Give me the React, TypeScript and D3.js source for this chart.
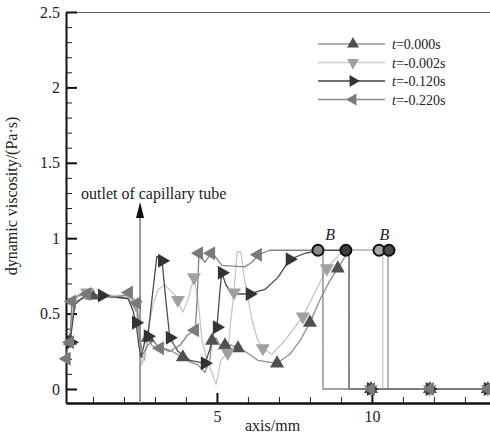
import React, { useEffect, useRef } from "react";
import * as d3 from "d3";

// axis ranges / ticks
const xDomain = [0.13, 13.81];
const yDomain = [-0.093, 2.5];
const yMajor = [0, 0.5, 1, 1.5, 2, 2.5];
const xMajor = [5, 10];
const xMinor = [1, 2, 3, 4, 6, 7, 8, 9, 11, 12, 13];

const legendLabels = ["0.000", "-0.002", "-0.120", "-0.220"];

// t=0.000s
const line000: [number, number][] = [
  [0.13, 0.29], [0.26, 0.32], [0.39, 0.58], [0.97, 0.62], [1.55, 0.61], [2.13, 0.6], [2.42, 0.54],
  [2.52, 0.26], [2.65, 0.19], [2.77, 0.34], [2.9, 0.29], [3.1, 0.26], [3.32, 0.27], [3.55, 0.25],
  [3.9, 0.21], [4.13, 0.18], [4.39, 0.16], [4.61, 0.11], [4.77, 0.19], [4.84, 0.32], [4.97, 0.34],
  [5.1, 0.29], [5.26, 0.29], [5.48, 0.29], [5.68, 0.27], [5.9, 0.25], [6.32, 0.19], [6.94, 0.17],
  [7.35, 0.23], [7.68, 0.32], [8.0, 0.44], [8.32, 0.59], [8.65, 0.72], [8.9, 0.8], [9.23, 0.91],
  [9.35, 0.92], [10.52, 0.92], [10.52, 0], [13.81, 0],
];
const marks000: [number, number][] = [
  [0.26, 0.32], [0.97, 0.62], [2.77, 0.34], [3.9, 0.21], [4.84, 0.32], [5.26, 0.29],
  [5.68, 0.27], [6.94, 0.17], [8.0, 0.44], [8.9, 0.8],
];

// t=-0.002s
const line002: [number, number][] = [
  [0.13, 0.29], [0.26, 0.31], [0.35, 0.59], [0.81, 0.64], [1.23, 0.62], [2.03, 0.62], [2.29, 0.59],
  [2.39, 0.56], [2.48, 0.32], [2.58, 0.16], [2.71, 0.26], [2.84, 0.46], [2.94, 0.56], [3.1, 0.66],
  [3.32, 0.69], [3.65, 0.62], [3.74, 0.59], [3.9, 0.51], [4.06, 0.59], [4.26, 0.74], [4.39, 0.59],
  [4.52, 0.32], [4.68, 0.19], [4.84, 0.11], [4.97, 0.03], [5.13, 0.19], [5.35, 0.24], [5.45, 0.46],
  [5.55, 0.64], [5.65, 0.91], [5.77, 0.91], [5.87, 0.75], [6.13, 0.46], [6.32, 0.32], [6.48, 0.27],
  [6.77, 0.23], [7.19, 0.32], [7.77, 0.48], [8.16, 0.64], [8.55, 0.8], [9.03, 0.91], [9.35, 0.92],
  [10.35, 0.92], [10.35, 0], [13.81, 0],
];
const marks002: [number, number][] = [
  [0.81, 0.64], [2.39, 0.56], [3.74, 0.59], [4.26, 0.74], [5.35, 0.24], [5.55, 0.64],
  [6.48, 0.27], [7.77, 0.48], [8.55, 0.8],
];

// t=-0.120s
const line120: [number, number][] = [
  [0.13, 0.29], [0.26, 0.31], [0.42, 0.56], [0.74, 0.62], [1.29, 0.62], [1.71, 0.61], [2.13, 0.6],
  [2.29, 0.52], [2.39, 0.44], [2.48, 0.29], [2.55, 0.21], [2.68, 0.32], [2.77, 0.35], [2.9, 0.59],
  [3.06, 0.88], [3.23, 0.85], [3.35, 0.59], [3.48, 0.34], [3.74, 0.25], [4.13, 0.19], [4.61, 0.17],
  [4.77, 0.26], [4.9, 0.39], [5.0, 0.41], [5.1, 0.66], [5.16, 0.77], [5.29, 0.69], [5.48, 0.63],
  [6.06, 0.63], [6.55, 0.66], [6.97, 0.74], [7.35, 0.86], [7.84, 0.9], [8.32, 0.92], [9.26, 0.92],
  [9.26, 0], [13.81, 0],
];
const marks120: [number, number][] = [
  [0.29, 0.31], [1.29, 0.62], [2.39, 0.44], [2.77, 0.35], [3.23, 0.85], [3.48, 0.34],
  [4.61, 0.17], [5.0, 0.41], [5.16, 0.77], [6.06, 0.63], [7.35, 0.86],
];

// t=-0.220s
const line220: [number, number][] = [
  [0.13, 0.2], [0.19, 0.29], [0.26, 0.32], [0.32, 0.58], [0.52, 0.62], [0.81, 0.63], [1.23, 0.62],
  [1.71, 0.61], [2.03, 0.62], [2.16, 0.64], [2.32, 0.59], [2.42, 0.56], [2.52, 0.32], [2.61, 0.23],
  [2.77, 0.29], [2.94, 0.32], [3.16, 0.27], [3.48, 0.25], [3.81, 0.29], [4.06, 0.36], [4.3, 0.39],
  [4.36, 0.59], [4.42, 0.9], [4.61, 0.84], [4.81, 0.9], [4.94, 0.88], [5.16, 0.82], [5.9, 0.81],
  [6.13, 0.84], [6.32, 0.89], [6.71, 0.92], [8.42, 0.92], [8.42, 0], [13.81, 0],
];
const marks220: [number, number][] = [
  [0.15, 0.2], [0.26, 0.31], [0.32, 0.58], [0.81, 0.63], [2.16, 0.64], [2.42, 0.57],
  [3.16, 0.27], [4.29, 0.39], [4.42, 0.9], [4.81, 0.9], [6.32, 0.89],
];

// point B: end of the high-viscosity plateau for each curve
const bEnds = [8.26, 9.16, 10.23, 10.55];
const bLevel = 0.92;
const bLabelX = [8.65, 10.4];
const tailMarksX = [9.97, 11.87, 13.74];
const outletX = 2.52;

const seriesStyle = [
  { line: line000, marks: marks000, stroke: "#8e8e8e", fill: "#505050", rot: 0, legendLine: "#9a9a9a" },
  { line: line002, marks: marks002, stroke: "#c6c6c6", fill: "#a0a0a0", rot: 180, legendLine: "#cccccc" },
  { line: line120, marks: marks120, stroke: "#4a4a4a", fill: "#333333", rot: 90, legendLine: "#444444" },
  { line: line220, marks: marks220, stroke: "#838383", fill: "#7a7a7a", rot: -90, legendLine: "#8a8a8a" },
];
const bFills = ["#8a8a8a", "#3c3c3c", "#a8a8a8", "#4a4a4a"];

const W = 490;
const H = 439;
const FONT = "Liberation Serif, DejaVu Serif, Noto Serif, Times New Roman, serif";

export default function App() {
  const svgRef = useRef<SVGSVGElement>(null);

  useEffect(() => {
    const svg = d3.select(svgRef.current);
    svg.selectAll("*").remove();

    const x = d3.scaleLinear().domain(xDomain).range([66, 490]);
    const y = d3.scaleLinear().domain(yDomain).range([403, 12]);

    svg.append("rect").attr("width", W).attr("height", H).attr("fill", "#fff");

    // top border
    svg.append("line")
      .attr("x1", 66).attr("x2", 490).attr("y1", 12.5).attr("y2", 12.5)
      .attr("stroke", "#666").attr("stroke-width", 1);

    // y axis
    const yMinor = d3.range(1, 25).map(d => d / 10).filter(d => Math.abs(d * 2 - Math.round(d * 2)) > 1e-6);
    svg.append("g")
      .attr("transform", "translate(66,0)")
      .call(d3.axisLeft(y).tickValues(yMinor).tickSize(-6).tickSizeOuter(0).tickFormat(() => ""))
      .call(g => g.select(".domain").remove())
      .call(g => g.selectAll("line").attr("stroke", "#222").attr("stroke-width", 1));
    const yAx = svg.append("g")
      .attr("transform", "translate(66,0)")
      .call(d3.axisLeft(y).tickValues(yMajor).tickSize(-11).tickSizeOuter(0).tickPadding(6)
        .tickFormat(d => String(d)));
    yAx.select(".domain").attr("stroke", "#111").attr("stroke-width", 2);
    yAx.selectAll("line").attr("stroke", "#111").attr("stroke-width", 2);
    yAx.selectAll("text").attr("font-family", FONT).attr("font-size", 16).attr("fill", "#222");

    // x axis
    svg.append("g")
      .attr("transform", "translate(0,403)")
      .call(d3.axisBottom(x).tickValues(xMinor).tickSize(-6).tickSizeOuter(0).tickFormat(() => ""))
      .call(g => g.select(".domain").remove())
      .call(g => g.selectAll("line").attr("stroke", "#222").attr("stroke-width", 1));
    const xAx = svg.append("g")
      .attr("transform", "translate(0,403)")
      .call(d3.axisBottom(x).tickValues(xMajor).tickSize(-10).tickSizeOuter(0).tickPadding(8)
        .tickFormat(d => String(d)));
    xAx.select(".domain").attr("stroke", "#111").attr("stroke-width", 2.5);
    xAx.selectAll("line").attr("stroke", "#111").attr("stroke-width", 2);
    xAx.selectAll("text").attr("font-family", FONT).attr("font-size", 16).attr("fill", "#222");

    // axis titles
    svg.append("text")
      .attr("transform", "translate(17,196) rotate(-90)")
      .attr("text-anchor", "middle")
      .attr("font-family", FONT).attr("font-size", 16).attr("fill", "#222")
      .text("dynamic viscosity/(Pa·s)");
    svg.append("text")
      .attr("x", 245).attr("y", 431)
      .attr("font-family", FONT).attr("font-size", 16).attr("fill", "#222")
      .text("axis/mm");

    // outlet marker
    svg.append("line")
      .attr("x1", x(outletX)).attr("x2", x(outletX)).attr("y1", 214).attr("y2", 403)
      .attr("stroke", "#9a9a9a").attr("stroke-width", 2);
    svg.append("path")
      .attr("d", `M${x(outletX)},202 L${x(outletX) - 4},218 L${x(outletX) + 4},218 Z`)
      .attr("fill", "#111");
    svg.append("text")
      .attr("x", 81).attr("y", 199)
      .attr("font-family", FONT).attr("font-size", 16).attr("fill", "#222")
      .text("outlet of capillary tube");

    const lineGen = d3.line<[number, number]>().x(d => x(d[0])).y(d => y(d[1]));
    const tri = d3.symbol().type(d3.symbolTriangle).size(85);

    // curves
    seriesStyle.forEach(s => {
      svg.append("path")
        .datum(s.line)
        .attr("d", lineGen)
        .attr("fill", "none")
        .attr("stroke", s.stroke)
        .attr("stroke-width", 1.3)
        .attr("stroke-linejoin", "round");
    });

    // markers
    seriesStyle.forEach(s => {
      const pts = s.marks.concat(tailMarksX.map(v => [v, 0] as [number, number]));
      svg.append("g").selectAll("path")
        .data(pts)
        .join("path")
        .attr("d", tri)
        .attr("transform", d => `translate(${x(d[0])},${y(d[1])}) rotate(${s.rot})`)
        .attr("fill", s.fill);
    });

    // B points
    svg.append("g").selectAll("circle")
      .data(bEnds)
      .join("circle")
      .attr("cx", d => x(d))
      .attr("cy", y(bLevel))
      .attr("r", 5.5)
      .attr("fill", (d, i) => bFills[i])
      .attr("stroke", "#111")
      .attr("stroke-width", 2);
    svg.append("g").selectAll("text")
      .data(bLabelX)
      .join("text")
      .attr("x", d => x(d))
      .attr("y", y(0.987))
      .attr("text-anchor", "middle")
      .attr("font-family", FONT).attr("font-size", 16).attr("font-style", "italic").attr("fill", "#222")
      .text("B");

    // legend
    const lg = svg.append("g");
    const rowsY = [44, 62.5, 81, 99.5];
    seriesStyle.forEach((s, i) => {
      const ry = rowsY[i];
      lg.append("line")
        .attr("x1", 318).attr("x2", 385).attr("y1", ry).attr("y2", ry)
        .attr("stroke", s.legendLine).attr("stroke-width", 1.3);
      lg.append("path")
        .attr("d", d3.symbol().type(d3.symbolTriangle).size(62))
        .attr("transform", `translate(353,${ry}) rotate(${s.rot})`)
        .attr("fill", s.fill);
      const t = lg.append("text")
        .attr("x", 392).attr("y", ry + 5)
        .attr("font-family", FONT).attr("font-size", 14).attr("fill", "#222");
      t.append("tspan").attr("font-style", "italic").text("t");
      t.append("tspan").text(`=${legendLabels[i]}s`);
    });
  }, []);

  return (
    <svg ref={svgRef} width={W} height={H} style={{ position: "absolute", left: 0, top: 0 }} />
  );
}
